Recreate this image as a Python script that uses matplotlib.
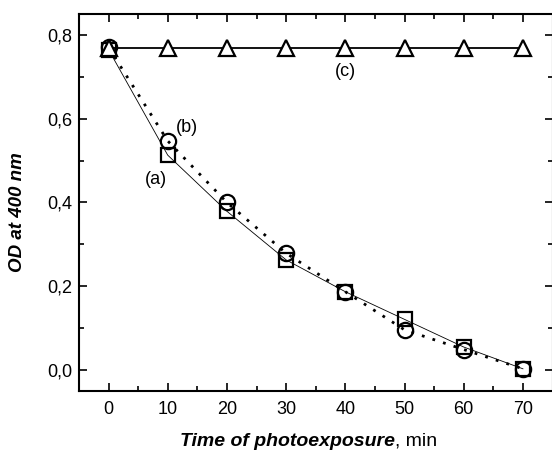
import numpy as np
import matplotlib.pyplot as plt
from matplotlib.ticker import MultipleLocator, FuncFormatter

plt.rcParams['font.family'] = ['Liberation Sans', 'DejaVu Sans']

time_min = [0, 10, 20, 30, 40, 50, 60, 70]
od_a = [0.765, 0.513, 0.379, 0.263, 0.187, 0.121, 0.055, 0.003]
od_b = [0.770, 0.547, 0.400, 0.279, 0.187, 0.096, 0.049, 0.003]
od_c = [0.768, 0.768, 0.768, 0.768, 0.768, 0.768, 0.768, 0.768]

fig = plt.figure(figsize=(5.52, 4.51), dpi=100)
ax = fig.add_axes([0.143, 0.133, 0.858, 0.836])

# (a) squares with thin solid line, (b) circles with dotted line, (c) triangles
ax.plot(time_min, od_a, "-", color="black", lw=0.6, zorder=2)
ax.plot(time_min, od_b, color="black", lw=2.0, ls=(0, (1, 3)), zorder=2)
ax.plot(time_min, od_c, "-", color="black", lw=1.3, zorder=2)
ax.plot(time_min, od_a, "s", ms=10, mfc="none", mec="black", mew=1.6, zorder=3)
ax.plot(time_min, od_b, "o", ms=11, mfc="none", mec="black", mew=1.6, zorder=3)
ax.plot(time_min, od_c, "^", ms=12, mfc="white", mec="black", mew=1.6, zorder=3)

ax.text(8.0, 0.455, "(a)", fontsize=13, ha="center", va="center")
ax.text(13.3, 0.578, "(b)", fontsize=13, ha="center", va="center")
ax.text(40.0, 0.712, "(c)", fontsize=13, ha="center", va="center")

ax.set_xlim(-5, 75)
ax.set_ylim(-0.05, 0.85)
ax.xaxis.set_major_locator(MultipleLocator(10))
ax.xaxis.set_minor_locator(MultipleLocator(5))
ax.yaxis.set_major_locator(MultipleLocator(0.2))
ax.yaxis.set_minor_locator(MultipleLocator(0.1))
ax.yaxis.set_major_formatter(FuncFormatter(lambda v, p: ("%.1f" % v).replace(".", ",")))
ax.tick_params(which="both", direction="in", top=True, right=True, labelsize=13, width=1.2)
ax.tick_params(which="major", length=6)
ax.tick_params(which="minor", length=3.5)
ax.tick_params(axis="x", which="major", pad=7)
ax.tick_params(axis="y", which="major", pad=5)
for s in ax.spines.values():
    s.set_linewidth(1.5)

t1 = fig.text(180 / 552, 1 - 441 / 451, "Time of photoexposure", fontsize=14,
              fontweight="bold", fontstyle="italic", ha="left", va="center")
ax.annotate(", min", xy=(1, 0), xycoords=t1, va="bottom", ha="left", fontsize=14)
fig.text(18 / 552, 1 - 212 / 451, "OD at 400 nm", fontsize=13.5, fontweight="bold",
         fontstyle="italic", rotation=90, ha="center", va="center")

plt.savefig("out.png", dpi=100)
